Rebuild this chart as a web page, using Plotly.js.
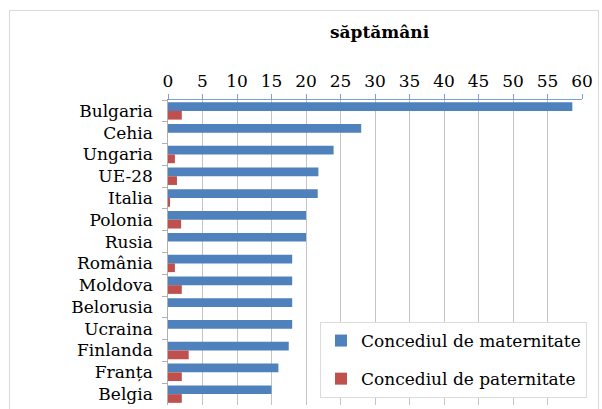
<!DOCTYPE html>
<html>
<head>
<meta charset="utf-8">
<script src="https://cdn.plot.ly/plotly-3.0.1.min.js"></script>
<style>
html,body{margin:0;padding:0;background:#fff;}
#wrap{position:relative;width:602px;height:409px;overflow:hidden;}
#chart{width:602px;height:409px;}
#frame{position:absolute;left:9px;top:10px;width:588px;height:410px;border:1px solid #d9d9d9;pointer-events:none;z-index:5;}
</style>
</head>
<body>
<div id="wrap"><div id="chart"></div><div id="frame"></div></div>
<script>
const countries = ["Bulgaria","Cehia","Ungaria","UE-28","Italia","Polonia","Rusia","România","Moldova","Belorusia","Ucraina","Finlanda","Franța","Belgia"];
const maternity = [58.6, 28, 24, 21.8, 21.7, 20, 20, 18, 18, 18, 18, 17.5, 16, 15];
const paternity = [2, 0, 1, 1.3, 0.3, 1.9, 0, 1, 2, 0, 0, 3, 2, 2];
const seriesNames = ["Concediul de maternitate", "Concediul de paternitate"];
const xTicks = [0,5,10,15,20,25,30,35,40,45,50,55,60];
const axisTitle = "săptămâni";

const L = 168, R = 582, T = 100, B = 405;
const W = R - L, H = B - T;
const px = x => (x - L) / W;
const py = y => (B - y) / H;

const mkFont = () => ({family: "DejaVu Serif, serif", size: 17, color: "#000"});

const traces = [
  {type: "bar", orientation: "h", name: seriesNames[0], y: countries, x: maternity,
   marker: {color: "#4f81bd"}, legendgroup: "a"},
  {type: "bar", orientation: "h", name: seriesNames[1], y: countries, x: paternity,
   marker: {color: "#c0504d"}, legendgroup: "b"}
];

const layout = {
  width: 602, height: 409,
  margin: {l: L, r: 602 - R, t: T, b: 409 - B, pad: 0, autoexpand: false},
  paper_bgcolor: "#fff", plot_bgcolor: "#fff",
  font: mkFont(),
  barmode: "group", bargap: 0.2, bargroupgap: 0,
  showlegend: true,
  legend: {x: px(320), y: py(322), xanchor: "left", yanchor: "top",
           bgcolor: "#fff", bordercolor: "#dcdcdc", borderwidth: 1, font: mkFont(),
           traceorder: "grouped", tracegroupgap: 13},
  xaxis: {side: "top", range: [0, 60], tickvals: xTicks,
          showgrid: true, gridcolor: "#c4c4c4", gridwidth: 1,
          showline: true, linecolor: "#7f9fd4", linewidth: 1,
          ticks: "outside", ticklen: 5, tickcolor: "#7f9fd4",
          zeroline: false, tickfont: mkFont()},
  yaxis: {type: "category", autorange: "reversed", showgrid: false,
          showline: true, linecolor: "#b0b0b0", linewidth: 1,
          ticks: "outside", ticklen: 5, tickcolor: "#b0b0b0", tickson: "boundaries",
          ticksuffix: "\u00a0\u00a0", tickfont: mkFont()},
  annotations: [
    {text: "<b>" + axisTitle + "</b>", xref: "paper", yref: "paper", x: px(380), y: py(32),
     xanchor: "center", yanchor: "middle", showarrow: false, font: mkFont()}
  ]
};

Plotly.newPlot("chart", traces, layout, {displayModeBar: false});
</script>
</body>
</html>
